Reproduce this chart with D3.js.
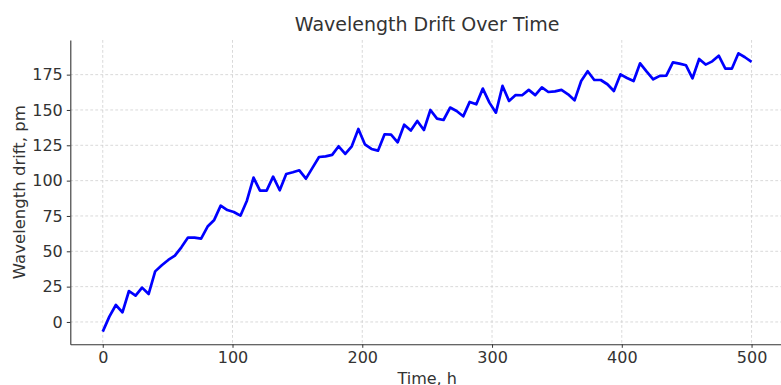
<!DOCTYPE html>
<html>
<head>
<meta charset="utf-8">
<script src="https://cdn.jsdelivr.net/npm/d3@7"></script>
<style>
  html, body { margin: 0; padding: 0; background: #fff; }
  svg { display: block; font-family: "DejaVu Sans", sans-serif; }
</style>
</head>
<body>
<div id="plot-container"></div>
<script>
// Time stamps, h
const times = [
  0.0, 5.1, 10.1, 15.2, 20.2, 25.3, 30.3, 35.4, 40.4, 45.5,
  50.5, 55.6, 60.6, 65.7, 70.7, 75.8, 80.8, 85.9, 90.9, 96.0,
  101.0, 106.1, 111.1, 116.2, 121.2, 126.3, 131.3, 136.4, 141.4, 146.5,
  151.5, 156.6, 161.6, 166.7, 171.7, 176.8, 181.8, 186.9, 191.9, 197.0,
  202.0, 207.1, 212.1, 217.2, 222.2, 227.3, 232.3, 237.4, 242.4, 247.5,
  252.5, 257.6, 262.6, 267.7, 272.7, 277.8, 282.8, 287.9, 292.9, 298.0,
  303.0, 308.1, 313.1, 318.2, 323.2, 328.3, 333.3, 338.4, 343.4, 348.5,
  353.5, 358.6, 363.6, 368.7, 373.7, 378.8, 383.8, 388.9, 393.9, 399.0,
  404.0, 409.1, 414.1, 419.2, 424.2, 429.3, 434.3, 439.4, 444.4, 449.5,
  454.5, 459.6, 464.6, 469.7, 474.7, 479.8, 484.8, 489.9, 494.9, 500.0
];

// Wavelength drift, pm
const drift = [
  -6.8, 3.8, 12.0, 6.8, 21.9, 18.6, 24.3, 19.8, 35.8, 40.1,
  43.9, 46.9, 52.8, 59.7, 59.7, 59.0, 67.5, 72.2, 82.3, 79.2,
  77.8, 75.2, 85.8, 102.1, 92.9, 92.9, 102.8, 93.2, 104.7, 105.9,
  107.3, 101.4, 109.0, 116.7, 117.2, 118.2, 124.3, 118.9, 124.3, 136.6,
  125.7, 122.4, 121.2, 132.8, 132.5, 127.1, 139.6, 135.4, 142.2, 135.8,
  150.0, 143.9, 142.9, 151.7, 149.3, 145.5, 155.7, 154.0, 165.1, 155.2,
  148.1, 167.0, 156.4, 160.6, 160.4, 164.2, 160.5, 166.0, 162.7, 163.2,
  164.2, 161.1, 156.8, 170.5, 177.4, 171.2, 171.2, 168.2, 163.4, 175.2,
  172.6, 170.5, 183.0, 177.1, 171.7, 174.1, 174.3, 183.7, 182.8, 181.6,
  172.4, 186.1, 182.1, 184.4, 188.4, 179.2, 179.2, 190.1, 187.3, 184.0
];

const xTicks = [0, 100, 200, 300, 400, 500];
const yTicks = [0, 25, 50, 75, 100, 125, 150, 175];

const title = "Wavelength Drift Over Time";
const xLabel = "Time, h";
const yLabel = "Wavelength drift, pm";

const width = 781, height = 385;
const textColor = "#333";

// canvas of the axes (right side runs past the picture edge)
const canvas = { left: 70.3, top: 40, right: 784, bottom: 344.3 };

const svg = d3.select("#plot-container")
  .append("svg")
  .attr("width", width)
  .attr("height", height)
  .attr("viewBox", [0, 0, width, height]);

const xScale = d3.scaleLinear()
  .domain([-25, 525])
  .range([canvas.left, canvas.right]);

const yScale = d3.scaleLinear()
  .domain([-15.8, 199.5])
  .range([canvas.bottom, canvas.top]);

// grid lines
const grid = svg.append("g").attr("class", "grid")
  .attr("stroke", "#cfcfcf")
  .attr("stroke-width", 0.8)
  .attr("stroke-dasharray", "2.8,2.2");

grid.selectAll("line.gx")
  .data(xTicks)
  .enter()
  .append("line")
  .attr("x1", d => xScale(d)).attr("x2", d => xScale(d))
  .attr("y1", canvas.top).attr("y2", canvas.bottom);

grid.selectAll("line.gy")
  .data(yTicks)
  .enter()
  .append("line")
  .attr("y1", d => yScale(d)).attr("y2", d => yScale(d))
  .attr("x1", canvas.left).attr("x2", canvas.right);

// the drift line
const points = times.map((t, i) => ({ t: t, v: drift[i] }));

svg.append("path")
  .datum(points)
  .attr("fill", "none")
  .attr("stroke", "#0000ff")
  .attr("stroke-width", 2.7)
  .attr("stroke-linejoin", "round")
  .attr("stroke-linecap", "butt")
  .attr("d", d3.line()
    .x(d => xScale(d.t))
    .y(d => yScale(d.v)));

// axes
const xAxis = svg.append("g")
  .attr("transform", `translate(0,${canvas.bottom})`)
  .call(d3.axisBottom(xScale)
    .tickValues(xTicks)
    .tickSize(3.5)
    .tickPadding(4)
    .tickSizeOuter(0)
    .tickFormat(d3.format("d")));

const yAxis = svg.append("g")
  .attr("transform", `translate(${canvas.left},0)`)
  .call(d3.axisLeft(yScale)
    .tickValues(yTicks)
    .tickSize(3.5)
    .tickPadding(4)
    .tickSizeOuter(0)
    .tickFormat(d3.format("d")));

[xAxis, yAxis].forEach(ax => {
  ax.select(".domain").attr("stroke", "#333").attr("stroke-width", 1.1);
  ax.selectAll(".tick line").attr("stroke", "#333").attr("stroke-width", 1);
  ax.selectAll(".tick text")
    .attr("fill", textColor)
    .attr("font-family", "DejaVu Sans")
    .attr("font-size", 16);
});

// title and axis labels
svg.append("text")
  .attr("x", (canvas.left + canvas.right) / 2)
  .attr("y", 31)
  .attr("text-anchor", "middle")
  .attr("fill", textColor)
  .attr("font-size", 19)
  .text(title);

svg.append("text")
  .attr("x", (canvas.left + canvas.right) / 2)
  .attr("y", 383.5)
  .attr("text-anchor", "middle")
  .attr("fill", textColor)
  .attr("font-size", 16)
  .text(xLabel);

svg.append("text")
  .attr("transform", `translate(25,${(canvas.top + canvas.bottom) / 2}) rotate(-90)`)
  .attr("text-anchor", "middle")
  .attr("fill", textColor)
  .attr("font-size", 16.5)
  .text(yLabel);
</script>
</body>
</html>
